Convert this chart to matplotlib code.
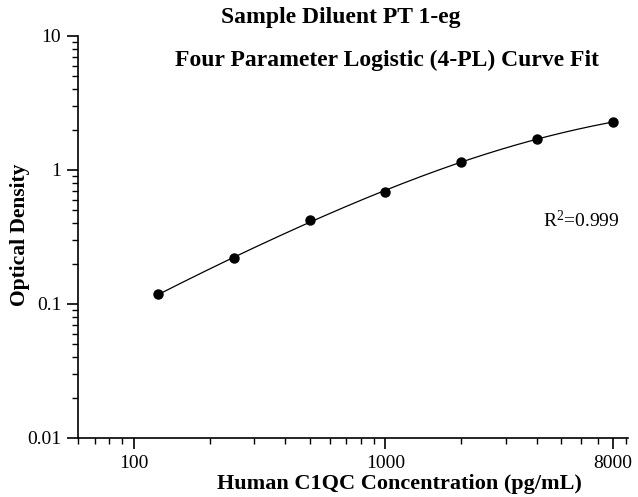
import numpy as np
import matplotlib.pyplot as plt
from matplotlib.ticker import FixedLocator, NullFormatter

# standard concentrations (pg/mL) and measured OD
conc = [125, 250, 500, 1000, 2000, 4000, 8000]
od = [0.118, 0.219, 0.424, 0.682, 1.153, 1.713, 2.27]
x_ticks = [100, 1000, 8000]
x_tick_labels = ["100", "1000", "8000"]
y_ticks = [0.01, 0.1, 1, 10]
y_tick_labels = ["0.01", "0.1", "1", "10"]


def four_pl(x, p):
    a, b, c, d = p
    return d + (a - d) / (1 + (x / c) ** b)


# small Levenberg-Marquardt fit of the 4-PL model in log space
xd = np.array(conc, float)
yd = np.array(od, float)
p = np.array([0.0, 1.0, 3000.0, 3.0])
lam = 1e-3
def resid(p):
    return np.log(four_pl(xd, p)) - np.log(yd)
for it in range(500):
    r = resid(p)
    J = np.zeros((len(xd), 4))
    for k in range(4):
        dp = np.zeros(4)
        dp[k] = 1e-6 * max(abs(p[k]), 1e-3)
        J[:, k] = (resid(p + dp) - r) / dp[k]
    A = J.T @ J
    step = np.linalg.solve(A + lam * np.diag(np.diag(A) + 1e-12), -J.T @ r)
    pn = p + step
    if np.all(np.isfinite(resid(pn))) and np.sum(resid(pn) ** 2) < np.sum(r ** 2):
        p = pn
        lam *= 0.3
    else:
        lam *= 10

plt.rcParams["font.family"] = ["Liberation Serif", "DejaVu Serif"]
plt.rcParams["mathtext.fontset"] = "custom"
plt.rcParams["mathtext.rm"] = "Liberation Serif"
plt.rcParams["mathtext.it"] = "Liberation Serif"

fig = plt.figure(figsize=(6.38, 4.97), dpi=100)
ax = fig.add_axes([78 / 638, 1 - 438 / 497, 550 / 638, 402 / 497])

xs = np.logspace(np.log10(125), np.log10(8000), 300)
ax.plot(xs, four_pl(xs, p), color="black", lw=0.9)
ax.plot(conc, od, "o", color="black", ms=6.5)

ax.set_xscale("log")
ax.set_yscale("log")
ax.set_xlim(60, 9200)
ax.set_ylim(0.01, 10)

ax.spines["top"].set_visible(False)
ax.spines["right"].set_visible(False)
for s in ["left", "bottom"]:
    ax.spines[s].set_linewidth(1.2)

ax.xaxis.set_major_locator(FixedLocator(x_ticks))
ax.set_xticklabels(x_tick_labels)
ax.xaxis.set_minor_formatter(NullFormatter())
ax.yaxis.set_major_locator(FixedLocator(y_ticks))
ax.set_yticklabels(y_tick_labels)
ax.yaxis.set_minor_formatter(NullFormatter())
ax.tick_params(which="major", length=8, width=1.2, labelsize=14, pad=4)
ax.tick_params(which="minor", length=4.5, width=1.0)

ax.set_xlabel("Human C1QC Concentration (pg/mL)", fontsize=16, fontweight="bold")
ax.xaxis.set_label_coords((399 - 78) / 550, -(474 - 438) / 402)
ax.set_ylabel("Optical Density", fontsize=15.5, fontweight="bold")
ax.yaxis.set_label_coords(-(78 - 30) / 550, (438 - 235) / 402)

ax.text((620 - 78) / 550, (438 - 220) / 402, r"R$^{2}$=0.999", transform=ax.transAxes,
        ha="right", va="center", fontsize=14)

fig.text(341 / 638, 1 - 18 / 497, "Sample Diluent PT 1-eg", ha="center", va="center",
         fontsize=17, fontweight="bold")
fig.text(387 / 638, 1 - 60 / 497, "Four Parameter Logistic (4-PL) Curve Fit", ha="center",
         va="center", fontsize=17, fontweight="bold")

fig.savefig("out.png", dpi=100)
